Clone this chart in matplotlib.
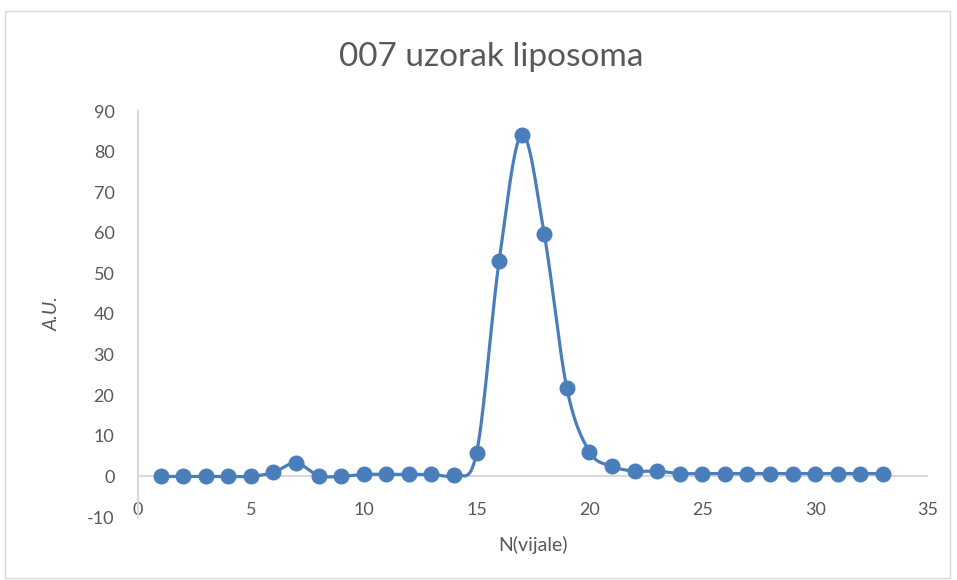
import numpy as np
import matplotlib.pyplot as plt
from matplotlib.patches import Rectangle

# vial number vs. signal (A.U.)
vials = list(range(1, 34))
signal = [0.0, 0.0, 0.0, 0.0, 0.0, 1.0, 3.3, 0.2, 0.0, 0.5,
          0.5, 0.5, 0.5, 0.4, 5.8, 53.1, 84.2, 59.6, 21.7, 6.1,
          2.5, 1.3, 1.3, 0.7, 0.7, 0.7, 0.7, 0.7, 0.7, 0.7,
          0.7, 0.7, 0.7]

TITLE = "007 uzorak liposoma"
XLABEL = "N(vijale)"
YLABEL = "A.U."
XTICKS = [0, 5, 10, 15, 20, 25, 30, 35]
YTICKS = [-10, 0, 10, 20, 30, 40, 50, 60, 70, 80, 90]

BLUE = "#4A7EBB"
TEXT = "#595959"
AXIS = "#D9D9D9"


def smooth(x, y, steps=30):
    # Excel-style smoothed line: cubic bezier segments, catmull-rom control points
    x = np.asarray(x, float)
    y = np.asarray(y, float)
    px = np.concatenate([[x[0]], x, [x[-1]]])
    py = np.concatenate([[y[0]], y, [y[-1]]])
    t = np.linspace(0, 1, steps)
    xs, ys = [], []
    for i in range(1, len(px) - 2):
        p0 = np.array([px[i], py[i]])
        p3 = np.array([px[i + 1], py[i + 1]])
        c1 = p0 + (p3 - np.array([px[i - 1], py[i - 1]])) / 6
        c2 = p3 - (np.array([px[i + 2], py[i + 2]]) - p0) / 6
        seg = ((1 - t) ** 3)[:, None] * p0 + (3 * (1 - t) ** 2 * t)[:, None] * c1 \
            + (3 * (1 - t) * t ** 2)[:, None] * c2 + (t ** 3)[:, None] * p3
        xs.extend(seg[:, 0])
        ys.extend(seg[:, 1])
    return xs, ys


plt.rcParams["font.family"] = ["Lato", "DejaVu Sans"]
plt.rcParams["axes.unicode_minus"] = False

fig = plt.figure(figsize=(9.57, 5.8), dpi=100)
fig.patches.append(Rectangle((5 / 957, 2 / 580), 945 / 957, 567 / 580, transform=fig.transFigure,
                             fill=False, edgecolor=AXIS, linewidth=1))

ax = fig.add_axes([138 / 957, 63 / 580, 790 / 957, 406 / 580])
ax.set_xlim(0, 35)
ax.set_ylim(-10, 90)

sx, sy = smooth(vials, signal)
ax.plot(sx, sy, color=BLUE, linewidth=2.3, zorder=3)
ax.plot(vials, signal, "o", color=BLUE, markersize=10.5, zorder=4)

ax.axhline(0, color=AXIS, linewidth=1.5, zorder=1)
for side in ["top", "right", "bottom"]:
    ax.spines[side].set_visible(False)
ax.spines["left"].set_color(AXIS)
ax.spines["left"].set_linewidth(1.5)

ax.set_xticks(XTICKS)
ax.set_yticks(YTICKS)
ax.tick_params(axis="x", length=0, pad=-11, labelsize=13, labelcolor=TEXT)
ax.tick_params(axis="y", length=0, pad=17, labelsize=13, labelcolor=TEXT)

fig.text(491 / 957, 1 - 57 / 580, TITLE, fontsize=24, color=TEXT,
         ha="center", va="center")
ax.set_xlabel(XLABEL, fontsize=14, color=TEXT, labelpad=13)
ax.set_ylabel(YLABEL, fontsize=14, color=TEXT, style="italic", labelpad=19)

fig.savefig("out.png", dpi=100)
